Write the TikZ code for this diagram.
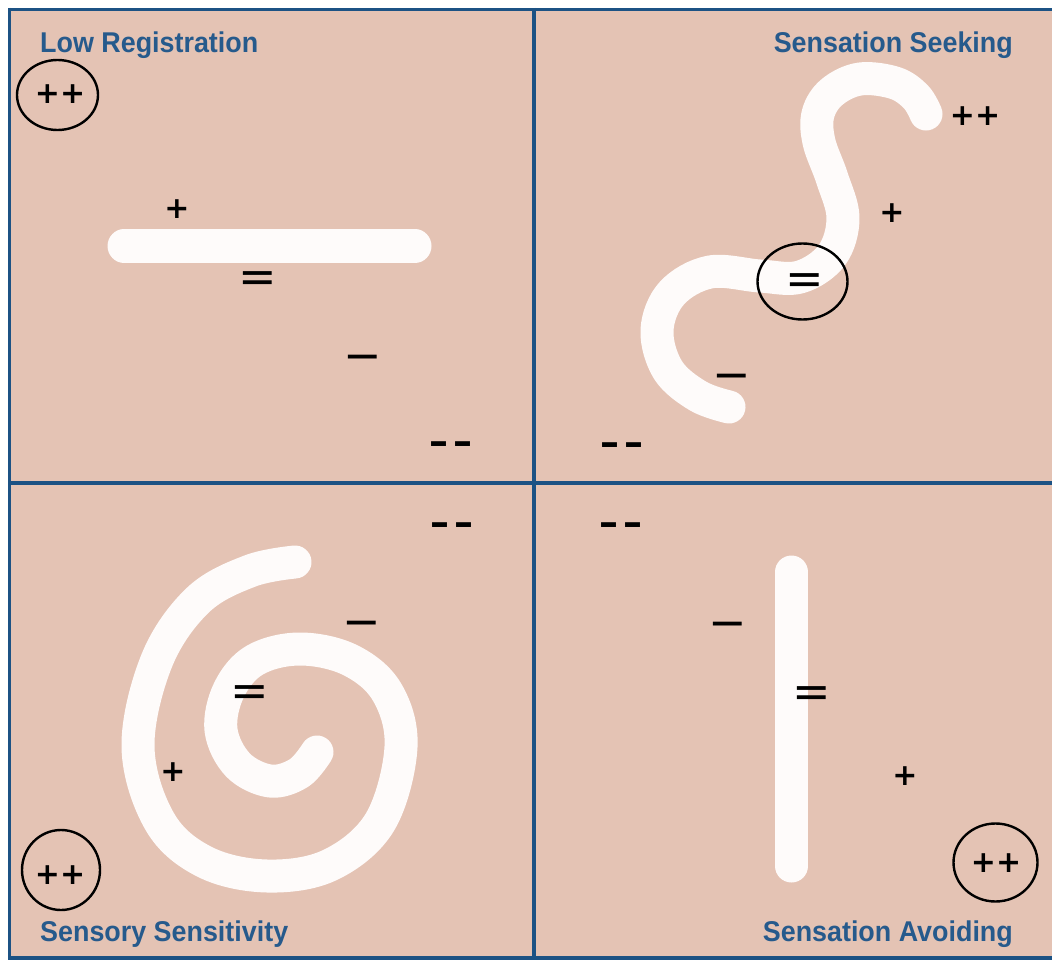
\documentclass[tikz,border=0pt]{standalone}
\usepackage{fontspec}
\setmainfont{Liberation Sans}
\newfontfamily\titlefont[FakeStretch=0.94]{Liberation Sans Bold}
\newfontfamily\signfont{DejaVu Sans}
\newfontfamily\signbold{DejaVu Sans Bold}
\definecolor{bgpink}{RGB}{228,195,180}
\definecolor{framebl}{RGB}{28,82,132}
\definecolor{titlebl}{RGB}{38,90,140}
\definecolor{curvewh}{RGB}{254,251,250}
\begin{document}
\begin{tikzpicture}[x=1pt,y=-1pt,
  title/.style={font=\titlefont\fontsize{28.6}{29}\selectfont, text=titlebl, inner sep=0},
  plus/.style={font=\signbold\fontsize{30}{30}\selectfont, inner sep=0},
  eqs/.style={font=\signfont\fontsize{46}{46}\selectfont, inner sep=0},
  minus/.style={font=\signfont\fontsize{46}{46}\selectfont, inner sep=0},
  dminus/.style={font=\signbold\fontsize{38}{38}\selectfont, inner sep=0},
  ring/.style={draw=black, line width=2.4pt},
  band/.style={draw=curvewh, line width=33pt, line cap=round, line join=round},
  frameline/.style={draw=framebl, line width=3.5pt}]
\useasboundingbox (0,0) rectangle (1052,960);
\fill[white] (0,0) rectangle (1052,960);
\fill[bgpink] (10,9) rectangle (1052,958);
% frame
\draw[frameline] (9.5,8) -- (9.5,959.5);
\draw[frameline] (8,9.5) -- (1052,9.5);
\draw[frameline] (8,958) -- (1052,958);
\draw[frameline] (534,8) -- (534,958);
\draw[frameline] (9.5,483) -- (1052,483);
% white bands
\draw[band] (124,246) -- (415,246);
\draw[band] plot[smooth, tension=0.6] coordinates {(729,407) (698,396) (668,370) (657,330) (672,293) (710,272) (760,276) (800,277) (832,255) (843,218) (832,178) (819,142) (818,114) (832,92) (860,79) (895,83) (916,97) (926,114)};
\draw[band] plot[smooth, tension=0.6] coordinates {(295,562) (250,571) (198,600) (157,660) (138,747) (160,822) (205,862) (267,876) (330,865) (380,822) (401,747) (387,692) (350,660) (300,649) (255,660) (229,690) (221,730) (238,765) (270,781) (299,773) (317,752)};
\draw[band] (791.5,572) -- (791.5,866);
% titles
\node[title, anchor=base west] (lr) at (40,53) {Low Registration};
\node[title, anchor=base east] (ss) at (1013,53) {Sensation Seeking};
\node[title, anchor=base west] (sy) at (40,941) {Sensory Sensitivity};
\node[title, anchor=base east] (sa) at (1013,941) {Sensation Avoiding};
% rings
\draw[ring] (57.5,95) ellipse [x radius=40.5, y radius=35];
\draw[ring] (802.5,281.5) ellipse [x radius=45, y radius=38];
\draw[ring] (61,870) ellipse [x radius=39, y radius=40];
\draw[ring] (995.5,862.5) ellipse [x radius=42, y radius=39];
% Low Registration signs
\node[plus] (lrpp) at (60,94) {++};
\node[plus] (lrp) at (177,209) {+};
\node[eqs] (lre) at (258,282) {=};
\node[minus] (lrm) at (363,363) {−};
\node[dminus] (lrmm) at (451,448) {–\hspace{5pt}–};
% Sensation Seeking signs
\node[plus] (sspp) at (975,116) {++};
\node[plus] (ssp) at (892,213) {+};
\node[eqs] (sse) at (805,284) {=};
\node[minus] (ssm) at (732,382) {−};
\node[dminus] (ssmm) at (622,449) {–\hspace{5pt}–};
% Sensory Sensitivity signs
\node[dminus] (symm) at (452,529) {–\hspace{5pt}–};
\node[minus] (sym) at (361.5,629) {−};
\node[eqs] (sye) at (250,696) {=};
\node[plus] (syp) at (173,772) {+};
\node[plus] (sypp) at (60,875) {++};
% Sensation Avoiding signs
\node[dminus] (samm) at (621,529) {–\hspace{5pt}–};
\node[minus] (sam) at (728,630) {−};
\node[eqs] (sae) at (812,697) {=};
\node[plus] (sap) at (905,776) {+};
\node[plus] (sapp) at (996,863) {++};
\end{tikzpicture}
\end{document}
